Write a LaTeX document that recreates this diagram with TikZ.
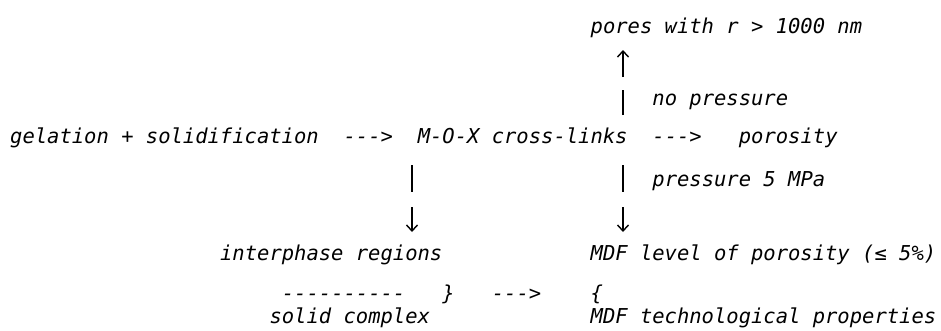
\documentclass[tikz,border=0pt]{standalone}
\usepackage{fontspec}
\setmonofont{DejaVu Sans Mono}[ItalicFont={DejaVu Sans Mono Oblique}]
\usetikzlibrary{arrows.meta}
\begin{document}
\begin{tikzpicture}[x=1pt,y=-1pt,
  txt/.style={anchor=base west,inner sep=0pt,
    font=\ttfamily\itshape\fontsize{20.5pt}{24pt}\selectfont},
  wire/.style={line width=1.4pt},
  tip/.style={-{Straight Barb[length=6pt,width=11pt]}}]
\fill[white] (0,0) rectangle (941,330);
\useasboundingbox (0,0) rectangle (941,330);

% typed lines, placed on a 12.35pt character grid
\node[txt] (pores)   at (590.45,33)  {pores with r > 1000 nm};
\node[txt] (nopress) at (652.2,105)  {no pressure};
\node[txt] (gel)     at (10,143)     {gelation + solidification};
\node[txt] (arrA)    at (343.45,143) {--->};
\node[txt] (mox)     at (417.55,143) {M-O-X cross-links};
\node[txt] (arrB)    at (652.2,143)  {--->};
\node[txt] (poro)    at (738.65,143) {porosity};
\node[txt] (press)   at (652.2,186)  {pressure 5 MPa};
\node[txt] (inter)   at (219.95,260) {interphase regions};
\node[txt] (mdflev)  at (590.45,260) {MDF level of porosity (≤ 5\%)};
\node[txt] (dashes)  at (281.7,300)  {----------};
\node[txt] (rbrace)  at (442.25,300) {\}};
\node[txt] (arrC)    at (491.65,300) {--->};
\node[txt] (lbrace)  at (590.45,300) {\{};
\node[txt] (solid)   at (269.35,323) {solid complex};
\node[txt] (mdftech) at (590.45,323) {MDF technological properties};

% vertical connectors, each a stroke with a break before the arrow
\coordinate (upA) at (623,115); \coordinate (upB) at (623,90);
\coordinate (upC) at (623,77);  \coordinate (upD) at (623,50);
\draw[wire] (upA) -- (upB);
\draw[wire,tip] (upC) -- (upD);

\coordinate (lA) at (412,165); \coordinate (lB) at (412,192);
\coordinate (lC) at (412,207); \coordinate (lD) at (412,232);
\draw[wire] (lA) -- (lB);
\draw[wire,tip] (lC) -- (lD);

\coordinate (rA) at (623,165); \coordinate (rB) at (623,192);
\coordinate (rC) at (623,207); \coordinate (rD) at (623,232);
\draw[wire] (rA) -- (rB);
\draw[wire,tip] (rC) -- (rD);
\end{tikzpicture}
\end{document}
